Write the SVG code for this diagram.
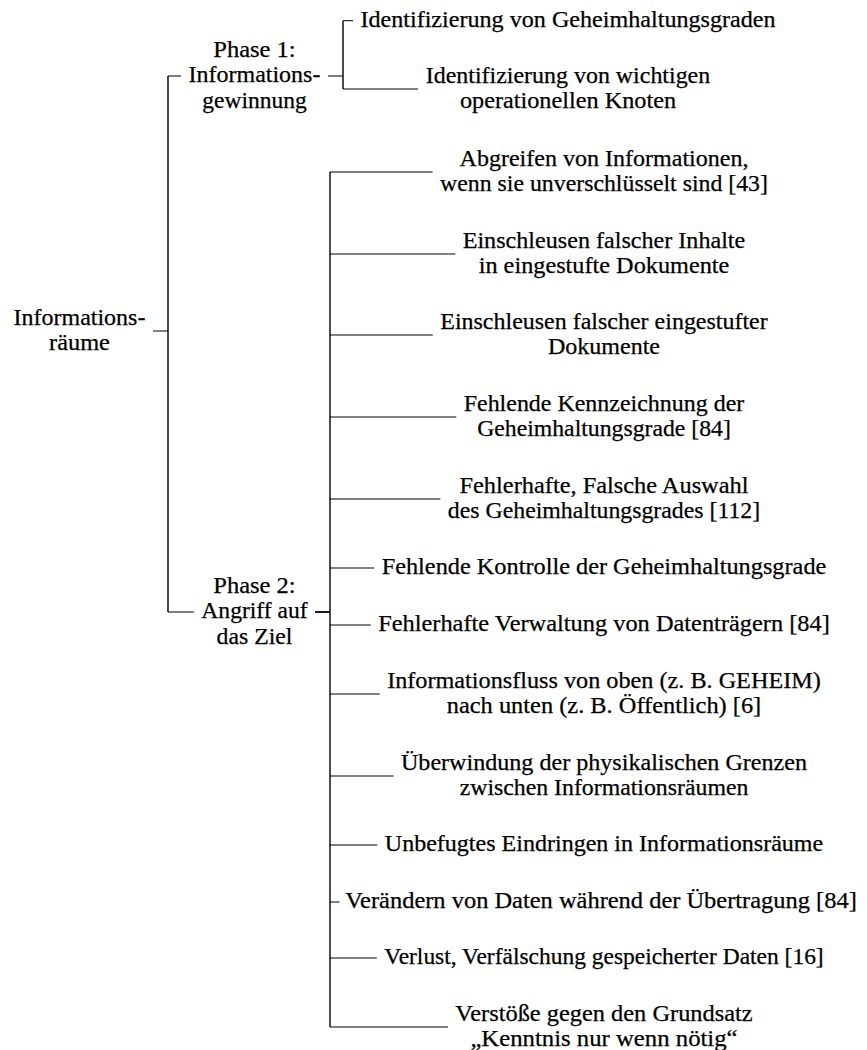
<svg xmlns="http://www.w3.org/2000/svg" width="867" height="1050" viewBox="0 0 867 1050">
<style>
.lbl text{font-size:23.3px;fill:#000;stroke:#000;stroke-width:0.25;text-anchor:middle}
.e{fill:none;stroke:#000;stroke-width:1}
.v{fill:none;stroke:#000;stroke-width:1.4}
.t{fill:none;stroke:#000;stroke-width:1.8}
</style>
<rect width="867" height="1050" fill="#fff"/>
<g id="connectors">
<path class="e" d="M153 331H168M168 76H181M168 612H194"/>
<path class="v" d="M168 76V612"/>
<path class="e" d="M328 76H343M343 20.7H353M343 89H418"/>
<path class="v" d="M343 20.7V89"/>
<path class="t" d="M315 612H330"/>
<path class="v" d="M330 172V1027"/>
<path class="e" d="M330 172H432.6M330 254H455.3M330 335H432.8M330 417H456.3M330 499H440.4M330 568H374.2M330 625H370.7M330 694H379.7M330 776H393.5M330 845H377.3M330 902H339.5M330 958H376.8M330 1027H447.9"/>
</g>
<g class="lbl" font-family="Liberation Serif, DejaVu Serif, Noto Serif, serif">
<g id="root"><text x="79.5" y="324.7" textLength="131.8" lengthAdjust="spacingAndGlyphs">Informations-</text><text x="79.5" y="350.2" textLength="60.9" lengthAdjust="spacingAndGlyphs">räume</text></g>
<g id="phase1"><text x="254.5" y="56.7" textLength="82.4" lengthAdjust="spacingAndGlyphs">Phase 1:</text><text x="254.5" y="82.2" textLength="131.8" lengthAdjust="spacingAndGlyphs">Informations-</text><text x="254.5" y="107.7" textLength="104.3" lengthAdjust="spacingAndGlyphs">gewinnung</text></g>
<g id="phase2"><text x="254.5" y="592.7" textLength="82.4" lengthAdjust="spacingAndGlyphs">Phase 2:</text><text x="254.5" y="618.2" textLength="106.3" lengthAdjust="spacingAndGlyphs">Angriff auf</text><text x="254.5" y="643.7" textLength="75.9" lengthAdjust="spacingAndGlyphs">das Ziel</text></g>
<g id="p1c1"><text x="568" y="26.9" textLength="415.2" lengthAdjust="spacingAndGlyphs">Identifizierung von Geheimhaltungsgraden</text></g>
<g id="p1c2"><text x="568" y="82.5" textLength="284.4" lengthAdjust="spacingAndGlyphs">Identifizierung von wichtigen</text><text x="568" y="108" textLength="216.1" lengthAdjust="spacingAndGlyphs">operationellen Knoten</text></g>
<g id="p2c1"><text x="604" y="165.5" textLength="288.9" lengthAdjust="spacingAndGlyphs">Abgreifen von Informationen,</text><text x="604" y="191" textLength="327.9" lengthAdjust="spacingAndGlyphs">wenn sie unverschlüsselt sind [43]</text></g>
<g id="p2c2"><text x="604" y="247.5" textLength="282.6" lengthAdjust="spacingAndGlyphs">Einschleusen falscher Inhalte</text><text x="604" y="273" textLength="250.6" lengthAdjust="spacingAndGlyphs">in eingestufte Dokumente</text></g>
<g id="p2c3"><text x="604" y="328.5" textLength="327.5" lengthAdjust="spacingAndGlyphs">Einschleusen falscher eingestufter</text><text x="604" y="354" textLength="112.1" lengthAdjust="spacingAndGlyphs">Dokumente</text></g>
<g id="p2c4"><text x="604" y="410.5" textLength="280.6" lengthAdjust="spacingAndGlyphs">Fehlende Kennzeichnung der</text><text x="604" y="436" textLength="253.7" lengthAdjust="spacingAndGlyphs">Geheimhaltungsgrade [84]</text></g>
<g id="p2c5"><text x="604" y="492.5" textLength="289" lengthAdjust="spacingAndGlyphs">Fehlerhafte, Falsche Auswahl</text><text x="604" y="518" textLength="312.3" lengthAdjust="spacingAndGlyphs">des Geheimhaltungsgrades [112]</text></g>
<g id="p2c6"><text x="604" y="574.2" textLength="444.7" lengthAdjust="spacingAndGlyphs">Fehlende Kontrolle der Geheimhaltungsgrade</text></g>
<g id="p2c7"><text x="604" y="631.2" textLength="451.7" lengthAdjust="spacingAndGlyphs">Fehlerhafte Verwaltung von Datenträgern [84]</text></g>
<g id="p2c8"><text x="604" y="687.5" textLength="433.7" lengthAdjust="spacingAndGlyphs">Informationsfluss von oben (z. B. GEHEIM)</text><text x="604" y="713" textLength="314.5" lengthAdjust="spacingAndGlyphs">nach unten (z. B. Öffentlich) [6]</text></g>
<g id="p2c9"><text x="604" y="769.5" textLength="406.1" lengthAdjust="spacingAndGlyphs">Überwindung der physikalischen Grenzen</text><text x="604" y="795" textLength="288.7" lengthAdjust="spacingAndGlyphs">zwischen Informationsräumen</text></g>
<g id="p2c10"><text x="604" y="851.2" textLength="438.4" lengthAdjust="spacingAndGlyphs">Unbefugtes Eindringen in Informationsräume</text></g>
<g id="p2c11"><text x="601" y="908.2" textLength="511.6" lengthAdjust="spacingAndGlyphs">Verändern von Daten während der Übertragung [84]</text></g>
<g id="p2c12"><text x="604" y="964.2" textLength="439.4" lengthAdjust="spacingAndGlyphs">Verlust, Verfälschung gespeicherter Daten [16]</text></g>
<g id="p2c13"><text x="604" y="1020.5" textLength="297.3" lengthAdjust="spacingAndGlyphs">Verstöße gegen den Grundsatz</text><text x="604" y="1046" textLength="267.2" lengthAdjust="spacingAndGlyphs">„Kenntnis nur wenn nötig“</text></g>
</g>
</svg>
